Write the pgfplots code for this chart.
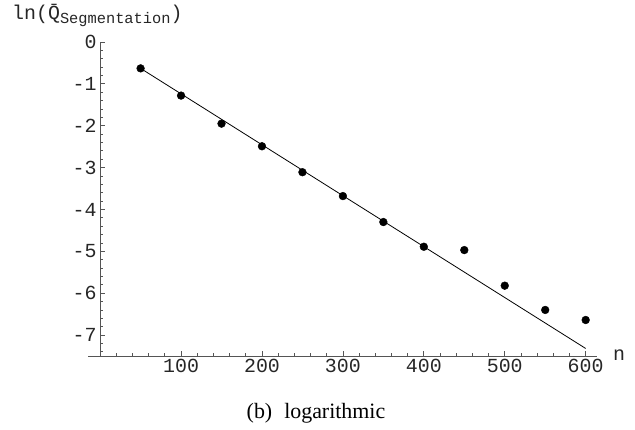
\documentclass[border=0pt]{standalone}
\usepackage{fontspec}
\setmainfont{Liberation Serif}
\setmonofont{Liberation Mono}
\usepackage{pgfplots}
\pgfplotsset{compat=1.18}
\definecolor{axgray}{RGB}{85,85,85}
\begin{document}
\begin{tikzpicture}
\path[use as bounding box] (-88bp,-74bp) rectangle (547bp,356bp);
\begin{axis}[
  at={(0,0)}, anchor=south west,
  scale only axis, width=509bp, height=314bp,
  xmin=-15, xmax=614, ymin=-7.5, ymax=0,
  axis x line*=bottom, axis y line*=middle,
  axis line style={axgray, line width=0.9bp},
  tick style={axgray, line width=0.8bp},
  tick align=inside,
  major tick length=5bp, minor tick length=3bp,
  xtick={100,200,300,400,500,600},
  xticklabels={100,200,300,400,500,600},
  minor xtick={20,40,...,600},
  ytick={-7,-6,-5,-4,-3,-2,-1,0},
  yticklabels={-7,-6,-5,-4,-3,-2,-1,0},
  minor ytick={-7.4,-7.2,...,0},
  ticklabel style={font=\fontsize{20}{20}\ttfamily, text=black!85},
  clip=false,
]
\addplot[black, line width=0.8bp] coordinates {(50,-0.63) (600,-7.32)};
\addplot[only marks, mark=*, mark size=3.9bp, black] coordinates {
(50,-0.63) (100,-1.28) (150,-1.95) (200,-2.49) (250,-3.11) (300,-3.68)
(350,-4.30) (400,-4.89) (450,-4.97) (500,-5.82) (550,-6.40) (600,-6.64)};
\end{axis}
\node[anchor=base west, inner sep=0pt, text=black!85] at (-76bp,336bp)
  {\fontsize{20}{20}\ttfamily ln(\={Q}\raisebox{-3.5bp}{\fontsize{15.4}{15.4}\selectfont Segmentation})};
\node[anchor=base west, inner sep=0pt, text=black!85] at (525bp,-4bp)
  {\fontsize{20}{20}\ttfamily n};
\node[anchor=base, inner sep=0pt] at (228bp,-62bp)
  {\fontsize{22}{22}\selectfont (b)\hspace{12bp}logarithmic};
\end{tikzpicture}
\end{document}
